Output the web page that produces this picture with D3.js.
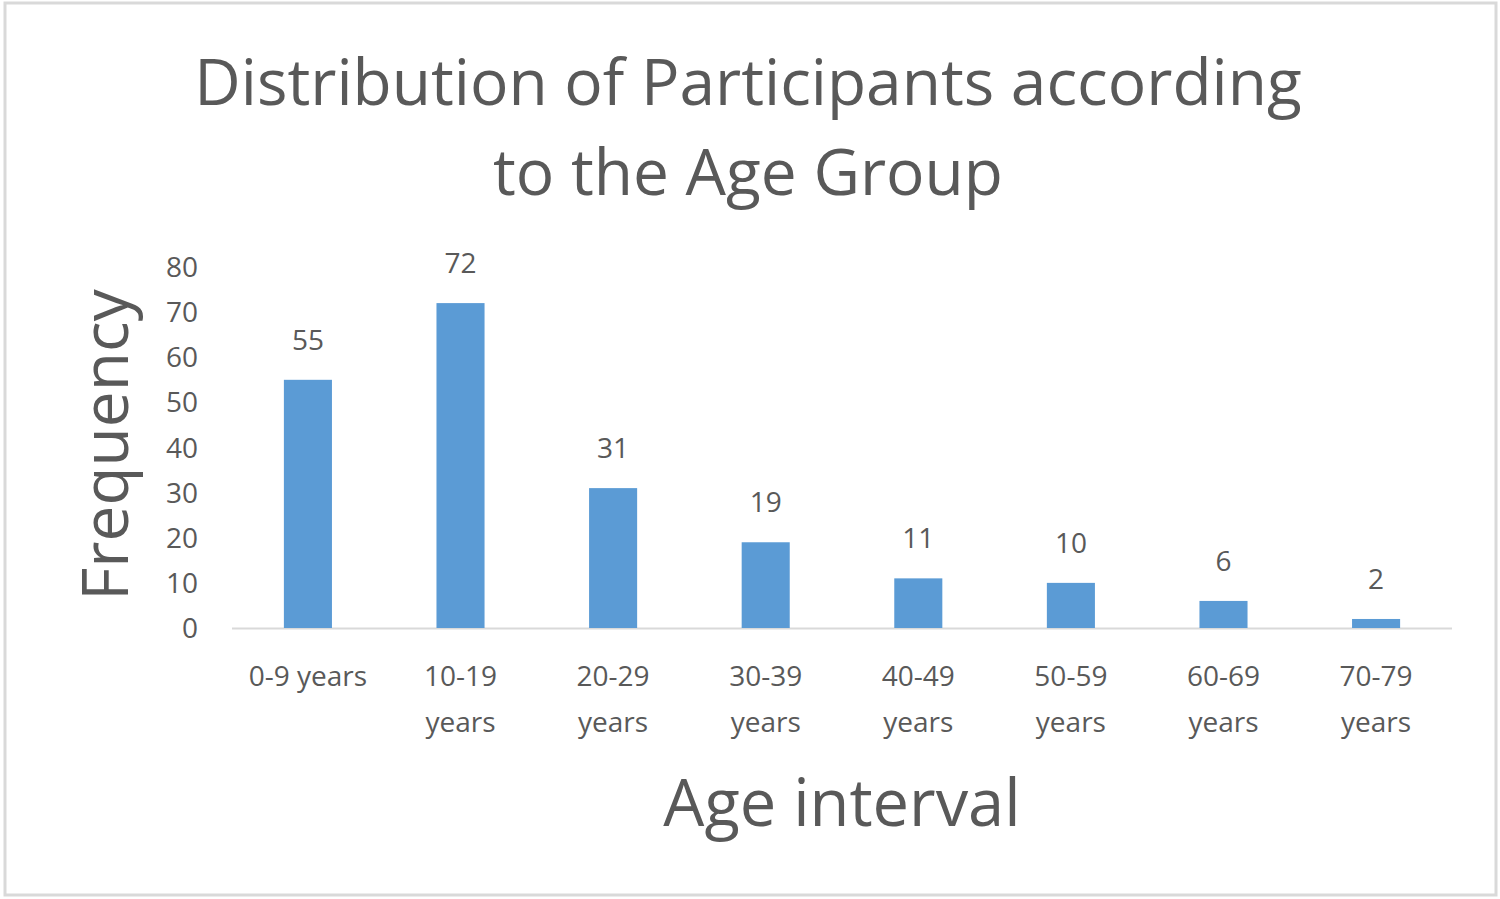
<!DOCTYPE html>
<html><head><meta charset="utf-8">
<script src="https://cdn.jsdelivr.net/npm/d3@7/dist/d3.min.js"></script>
<style>body{margin:0;background:#fff}text{font-family:"Open Sans",sans-serif;fill:#595959}</style>
</head><body>
<svg id="c" width="1500" height="899"></svg>
<script>
var categories = [["0-9 years"], ["10-19", "years"], ["20-29", "years"], ["30-39", "years"],
  ["40-49", "years"], ["50-59", "years"], ["60-69", "years"], ["70-79", "years"]];
var values = [55, 72, 31, 19, 11, 10, 6, 2];
var yTicks = [0, 10, 20, 30, 40, 50, 60, 70, 80];

var svg = d3.select('#c');
svg.append('rect').attr('x', 5).attr('y', 3).attr('width', 1491).attr('height', 892)
  .attr('fill', '#fff').attr('stroke', '#d9d9d9').attr('stroke-width', 3);

var x = d3.scaleBand().domain(d3.range(values.length)).range([232, 1452]).paddingInner(0.685).paddingOuter(0.34);
var y = d3.scaleLinear().domain([0, 80]).range([628, 267]);

// title
svg.append('text').attr('x', 748).attr('y', 105).attr('text-anchor', 'middle')
  .style('font-size', '64px').text('Distribution of Participants according');
svg.append('text').attr('x', 748).attr('y', 195).attr('text-anchor', 'middle')
  .style('font-size', '64px').text('to the Age Group');

// y axis labels
svg.selectAll('.yt').data(yTicks).enter().append('text')
  .attr('x', 198).attr('y', function(d) { return y(d) + 10; })
  .attr('text-anchor', 'end').style('font-size', '28px').text(function(d) { return d; });

// baseline
svg.append('line').attr('x1', 232).attr('x2', 1452).attr('y1', 628.5).attr('y2', 628.5)
  .attr('stroke', '#d9d9d9').attr('stroke-width', 2);

svg.selectAll('.bar').data(values).enter().append('rect')
  .attr('x', function(d, i) { return x(i); })
  .attr('y', function(d) { return y(d); })
  .attr('width', x.bandwidth())
  .attr('height', function(d) { return y(0) - y(d); })
  .attr('fill', '#5b9bd5');

svg.selectAll('.lbl').data(values).enter().append('text')
  .attr('x', function(d, i) { return x(i) + x.bandwidth() / 2; })
  .attr('y', function(d) { return y(d) - 30; })
  .attr('text-anchor', 'middle').style('font-size', '28px').text(function(d) { return d; });

// category labels
categories.forEach(function(lines, i) {
  var t = svg.append('text').attr('text-anchor', 'middle').style('font-size', '28px');
  lines.forEach(function(s, j) {
    t.append('tspan').attr('x', x(i) + x.bandwidth() / 2).attr('y', 686 + j * 46).text(s);
  });
});

// axis titles
svg.append('text').attr('transform', 'translate(128,445) rotate(-90)')
  .attr('text-anchor', 'middle').style('font-size', '64px').text('Frequency');
svg.append('text').attr('x', 842).attr('y', 826).attr('text-anchor', 'middle')
  .style('font-size', '65px').text('Age interval');
</script>
</body></html>
